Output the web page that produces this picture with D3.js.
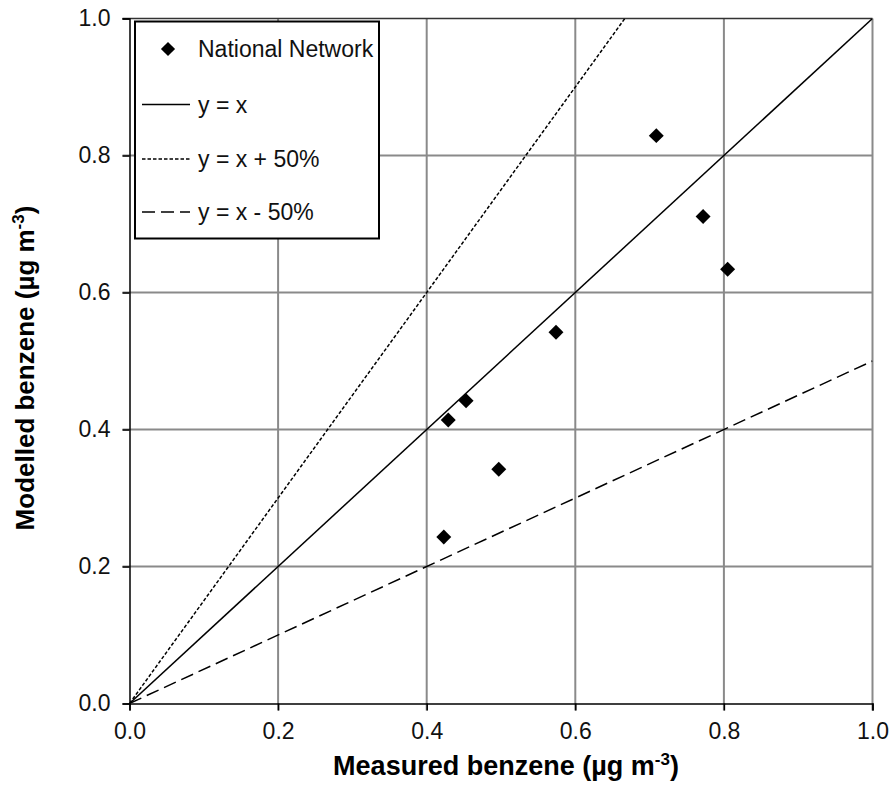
<!DOCTYPE html>
<html><head><meta charset="utf-8">
<script src="https://cdn.jsdelivr.net/npm/d3@7"></script>
<style>body{margin:0;background:#fff}svg{display:block}text{font-family:"Liberation Sans",Arial,sans-serif}</style>
</head><body><svg id="c" width="892" height="785"></svg>
<script>
const measured = [0.423, 0.429, 0.453, 0.497, 0.574, 0.709, 0.772, 0.805];
const modelled = [0.243, 0.414, 0.442, 0.342, 0.542, 0.829, 0.711, 0.634];
const ticks = [0, 0.2, 0.4, 0.6, 0.8, 1.0];
const seriesName = "National Network";
const refLines = [
  {label: "y = x", factor: 1.0, dash: null},
  {label: "y = x + 50%", factor: 1.5, dash: "3.5,2"},
  {label: "y = x - 50%", factor: 0.5, dash: "13,6"}
];
const xTitle = "Measured benzene (µg m", yTitle = "Modelled benzene (µg m";

const svg = d3.select("#c");
const L = 129.5, R = 872.5, T = 18.5, B = 703.5;
const x = d3.scaleLinear().domain([0, 1]).range([L, R]);
const y = d3.scaleLinear().domain([0, 1]).range([B, T]);

// grid
const g = svg.append("g");
g.selectAll(".gx").data(ticks.slice(1)).join("line")
  .attr("x1", d => x(d)).attr("x2", d => x(d)).attr("y1", T).attr("y2", B + 7)
  .attr("stroke", "#8a8a8a").attr("stroke-width", 2);
g.selectAll(".gy").data(ticks.slice(1, -1)).join("line")
  .attr("y1", d => y(d)).attr("y2", d => y(d)).attr("x1", L - 7).attr("x2", R)
  .attr("stroke", "#8a8a8a").attr("stroke-width", 2);
// top line
svg.append("line").attr("x1", L - 7).attr("x2", R).attr("y1", T).attr("y2", T).attr("stroke", "#333").attr("stroke-width", 1.5);

// axes
const xa = svg.append("g").attr("transform", `translate(0,${B})`)
  .call(d3.axisBottom(x).tickValues(ticks).tickFormat(d3.format(".1f")).tickSize(7).tickPadding(12));
const ya = svg.append("g").attr("transform", `translate(${L},0)`)
  .call(d3.axisLeft(y).tickValues(ticks).tickFormat(d3.format(".1f")).tickSize(7).tickPadding(12));
[xa, ya].forEach(a => {
  a.select(".domain").attr("stroke", "#000").attr("stroke-width", 1.5);
  a.selectAll(".tick line").attr("stroke", "#000").attr("stroke-width", 1.5);
  a.selectAll(".tick text").attr("font-size", 23).attr("fill", "#111")
   .attr("font-family", "Liberation Sans, Arial, sans-serif");
});

// reference lines, clipped
svg.append("clipPath").attr("id", "clip").append("rect").attr("x", L).attr("y", T).attr("width", R - L).attr("height", B - T);
const lines = svg.append("g").attr("clip-path", "url(#clip)");
refLines.forEach(r => {
  lines.append("line").attr("x1", x(0)).attr("y1", y(0)).attr("x2", x(1)).attr("y2", y(r.factor))
    .attr("stroke", "#000").attr("stroke-width", 1.5).attr("stroke-dasharray", r.dash);
});

// points
const diamond = d3.symbol().type(d3.symbolSquare).size(112);
svg.append("g").selectAll("path").data(measured).join("path")
  .attr("d", diamond)
  .attr("transform", (d, i) => `translate(${x(d)},${y(modelled[i])}) rotate(45)`)
  .attr("fill", "#000");

// legend
const lg = svg.append("g");
lg.append("rect").attr("x", 135).attr("y", 21.5).attr("width", 244).attr("height", 217)
  .attr("fill", "#fff").attr("stroke", "#000").attr("stroke-width", 2);
lg.append("path").attr("d", d3.symbol().type(d3.symbolSquare).size(100))
  .attr("transform", "translate(168,49) rotate(45)").attr("fill", "#000");
lg.append("text").attr("x", 198).attr("y", 49).attr("dy", "0.35em").attr("font-size", 23).attr("fill", "#111").text(seriesName);
const ly = [104.5, 159, 212];
refLines.forEach((r, i) => {
  lg.append("line").attr("x1", 142).attr("x2", 190).attr("y1", ly[i]).attr("y2", ly[i])
    .attr("stroke", "#000").attr("stroke-width", 1.5).attr("stroke-dasharray", r.dash);
  lg.append("text").attr("x", 198).attr("y", ly[i]).attr("dy", "0.35em").attr("font-size", 23).attr("fill", "#111").text(r.label);
});

// titles
const xt = svg.append("text").attr("x", 506).attr("y", 775).attr("text-anchor", "middle")
  .attr("font-size", 27).attr("font-weight", "bold");
xt.append("tspan").text(xTitle);
xt.append("tspan").attr("font-size", 17).attr("dy", -10).text("-3");
xt.append("tspan").attr("dy", 10).text(")");
const yt = svg.append("text").attr("transform", `translate(34,368) rotate(-90)`).attr("text-anchor", "middle")
  .attr("font-size", 26).attr("font-weight", "bold");
yt.append("tspan").text(yTitle);
yt.append("tspan").attr("font-size", 17).attr("dy", -10).text("-3");
yt.append("tspan").attr("dy", 10).text(")");
</script></body></html>
